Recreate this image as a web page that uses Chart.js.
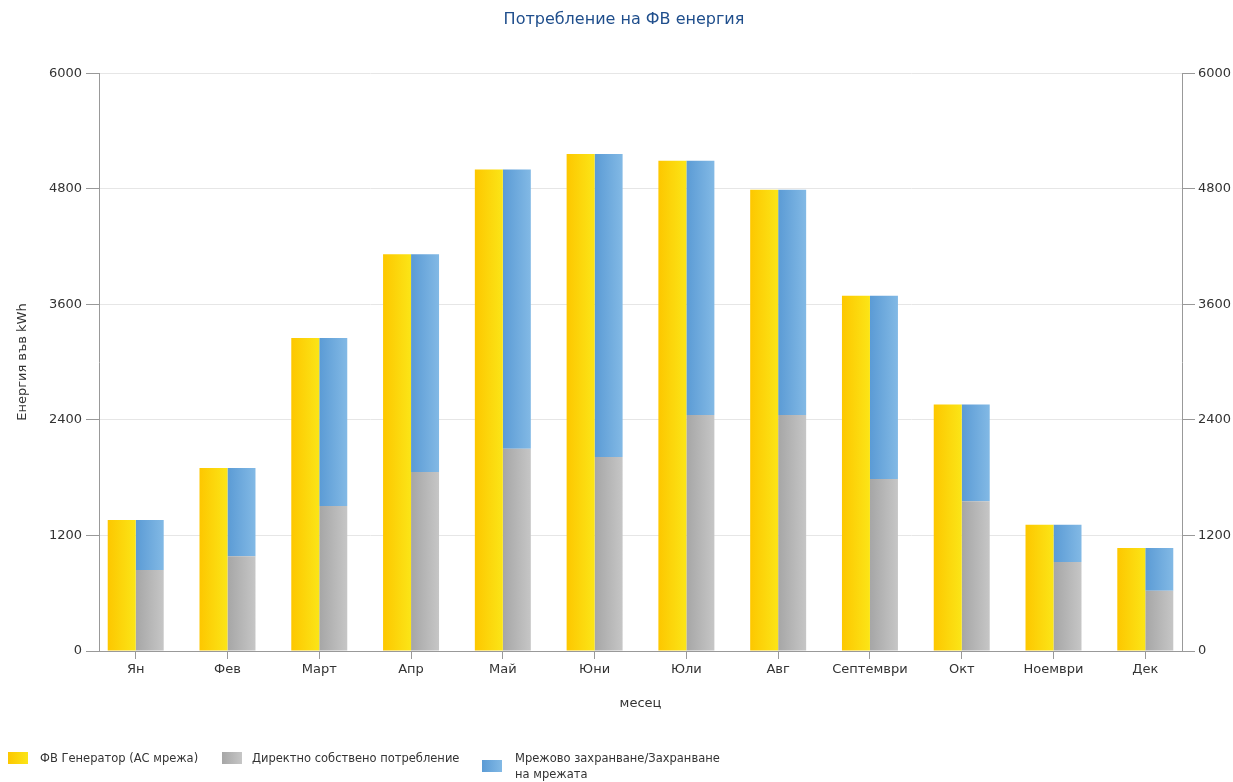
<!DOCTYPE html>
<html>
<head>
<meta charset="utf-8">
<script src="https://cdn.jsdelivr.net/npm/chart.js@4/dist/chart.umd.min.js"></script>
<style>
  html, body { margin: 0; padding: 0; background: #fff; }
  #wrap { position: relative; width: 1233px; height: 782px; }
  canvas { position: absolute; left: 0; top: 0; }
  .lg { position: absolute; font-family: "DejaVu Sans", sans-serif; font-size: 11.5px; color: #333; line-height: 16px; white-space: nowrap; }
  .box { position: absolute; width: 20px; height: 12px; }
</style>
</head>
<body>
<div id="wrap">
  <canvas id="c" width="1233" height="782"></canvas>
  <div class="box" style="left:8px;top:752px;background:linear-gradient(to right,#fdc700,#fbe517);"></div>
  <div class="lg" id="lg0" style="left:40px;top:750px;"></div>
  <div class="box" style="left:222px;top:752px;background:linear-gradient(to right,#a6a6a6,#c6c6c6);"></div>
  <div class="lg" id="lg1" style="left:252px;top:750px;"></div>
  <div class="box" style="left:482px;top:760px;background:linear-gradient(to right,#5b9bd5,#82b9e5);"></div>
  <div class="lg" id="lg2" style="left:515px;top:750px;"></div>
</div>
<script>
const months = ['Ян', 'Фев', 'Март', 'Апр', 'Май', 'Юни', 'Юли', 'Авг', 'Септември', 'Окт', 'Ноември', 'Дек'];
const seriesNames = ['ФВ Генератор (АС мрежа)', 'Директно собствено потребление', 'Мрежово захранване/Захранване', 'на мрежата'];
const generator = [1360, 1900, 3250, 4120, 5000, 5160, 5090, 4790, 3690, 2560, 1310, 1070];
const directUse = [840, 985, 1505, 1860, 2100, 2015, 2450, 2450, 1785, 1555, 925, 625];
const gridFeed = [520, 915, 1745, 2260, 2900, 3145, 2640, 2340, 1905, 1005, 385, 445];
const yTicks = [0, 1200, 2400, 3600, 4800, 6000];
const chartTitle = 'Потребление на ФВ енергия';
const yTitle = 'Енергия във kWh';
const xTitle = 'месец';

document.getElementById('lg0').textContent = seriesNames[0];
document.getElementById('lg1').textContent = seriesNames[1];
const lg2 = document.getElementById('lg2');
lg2.appendChild(document.createTextNode(seriesNames[2]));
lg2.appendChild(document.createElement('br'));
lg2.appendChild(document.createTextNode(seriesNames[3]));

const CAT_PCT = 0.61;
const EDGE = 0.4; // fraction of a category step left at each end of the x axis

function grad(c0, c1, side) {
  return function (ctx) {
    const chart = ctx.chart;
    const xs = chart.scales && chart.scales.x;
    if (!xs || !chart.chartArea || ctx.dataIndex === undefined) return c0;
    const c = xs.getPixelForValue(ctx.dataIndex);
    const step = xs.getPixelForValue(1) - xs.getPixelForValue(0);
    const w = step * CAT_PCT / 2;
    const x0 = side === 'left' ? c - w : c;
    const g = chart.ctx.createLinearGradient(x0, 0, x0 + w, 0);
    g.addColorStop(0, c0);
    g.addColorStop(1, c1);
    return g;
  };
}

const font = { family: '"DejaVu Sans", sans-serif', size: 13 };
const plain = (v) => String(v);

new Chart(document.getElementById('c'), {
  type: 'bar',
  data: {
    labels: months,
    datasets: [
      { label: seriesNames[0], data: generator, stack: 'gen', backgroundColor: grad('#fdc700', '#fbe517', 'left'), borderWidth: 0 },
      { label: seriesNames[1], data: directUse, stack: 'use', backgroundColor: grad('#a6a6a6', '#c6c6c6', 'right'), borderWidth: 0 },
      { label: seriesNames[2] + ' ' + seriesNames[3], data: gridFeed, stack: 'use', backgroundColor: grad('#5b9bd5', '#82b9e5', 'right'), borderWidth: 0 }
    ]
  },
  options: {
    responsive: false,
    animation: false,
    layout: { padding: { left: 15, right: 0, top: 0, bottom: 62 } },
    datasets: { bar: { categoryPercentage: CAT_PCT, barPercentage: 1 } },
    plugins: {
      legend: { display: false },
      tooltip: { enabled: false },
      title: {
        display: true, text: chartTitle, color: '#1f4e8c',
        font: { family: '"DejaVu Sans", sans-serif', size: 16, weight: 'normal' },
        padding: { top: 10, bottom: 44 }
      }
    },
    scales: {
      x: {
        stacked: true,
        offset: false,
        afterBuildTicks: (s) => { s._startValue = -EDGE; s._valueRange = (months.length - 1) + 2 * EDGE; },
        afterFit: (s) => { s.height = 69; },
        grid: { offset: false, drawOnChartArea: false, tickLength: 8, tickColor: '#999', color: '#999' },
        border: { color: '#999' },
        ticks: { color: '#333', font: font, padding: 3, maxRotation: 0, autoSkip: false },
        title: { display: true, text: xTitle, color: '#333', font: font, padding: { top: 0, bottom: 9 } }
      },
      y: {
        stacked: true, position: 'left', min: 0, max: 6000,
        afterFit: (s) => { s.width = 84; },
        afterBuildTicks: (s) => { s.ticks = yTicks.map(v => ({ value: v })); },
        grid: { color: '#e6e6e6', tickColor: '#999', tickLength: 13 },
        border: { color: '#999' },
        ticks: { color: '#333', font: font, padding: 4, callback: plain },
        title: { display: true, text: yTitle, color: '#333', font: font, padding: { top: 0, bottom: 0 } }
      },
      y1: {
        display: true, position: 'right', min: 0, max: 6000,
        afterFit: (s) => { s.width = 51; },
        afterBuildTicks: (s) => { s.ticks = yTicks.map(v => ({ value: v })); },
        grid: { drawOnChartArea: false, tickColor: '#999', tickLength: 13 },
        border: { color: '#999' },
        ticks: { color: '#333', font: font, padding: 3, callback: plain }
      }
    }
  }
});
</script>
</body>
</html>
